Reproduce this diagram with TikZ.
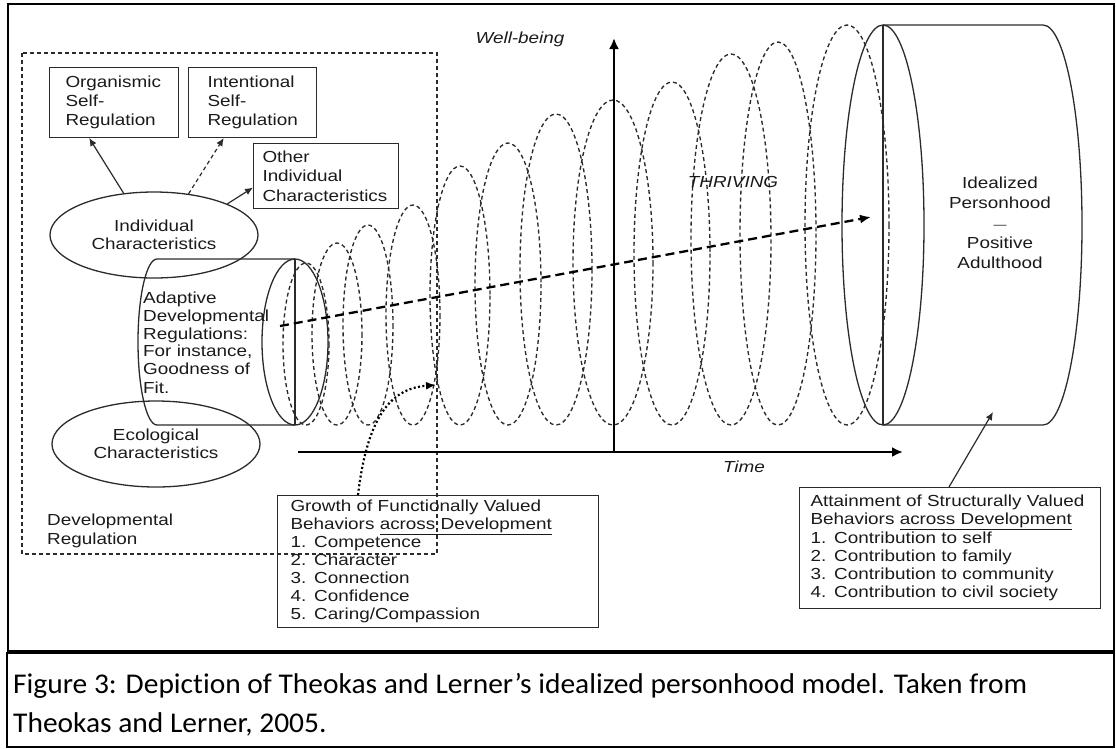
\documentclass[tikz,border=0pt]{standalone}
\usepackage{fontspec}
\setmainfont{Liberation Sans}[FakeStretch=1.18]
\newfontfamily\capfont{Carlito}[Ligatures=CommonOff, FakeStretch=1.03]
\usetikzlibrary{shapes.geometric,arrows.meta}
\definecolor{ink}{HTML}{2B2B2B}
\definecolor{letter}{HTML}{1A1A1A}
\newcommand{\lbl}{\fontsize{16}{18.3}\selectfont}

\begin{document}
\begin{tikzpicture}[x=1pt,y=-1pt,
  frame/.style={draw=black, line width=1.4pt},
  box/.style={draw=ink, line width=1pt, align=left, anchor=north west,
    inner ysep=0pt, font=\lbl, text=letter},
  oval/.style={ellipse, draw=ink, line width=1.3pt, align=center,
    font=\lbl, inner sep=0pt, text=letter},
  plain/.style={inner sep=0pt, text=letter},
  coil/.style={draw=ink, line width=1.35pt, dash pattern=on 4pt off 3pt},
  regbox/.style={draw=ink, line width=1.2pt, dash pattern=on 4pt off 3pt},
  solidarrow/.style={draw=ink, line width=1.2pt, -{Latex[length=8pt,width=7pt]}},
  dasharrow/.style={solidarrow, dash pattern=on 4pt off 3pt},
  axis/.style={draw=black, line width=2.4pt, -{Latex[length=11pt,width=10pt]}},
  trend/.style={draw=black, line width=2.3pt, dash pattern=on 9pt off 5pt,
    -{Latex[length=11pt,width=9pt]}},
  dots/.style={draw=black, line width=2.2pt, dash pattern=on 2pt off 2.4pt,
    -{Latex[length=10pt,width=8pt]}},
  shell/.style={draw=ink, line width=1.3pt}
]
\useasboundingbox (0,0) rectangle (1116,748);

% outer frames: figure area and caption area
\draw[frame] (8,4) rectangle (1114,651);
\draw[frame] (7,653) rectangle (1114,747);

% developmental regulation region
\draw[regbox] (22,53) rectangle (437,554);
\node[plain, anchor=north west, align=left, font=\lbl] (devreg) at (47,514)
  {Developmental\\Regulation};

% coils of development between the two cylinders
\foreach \cx/\tp/\rx in {306/263/23, 337/243/25, 368/225/25, 413/205/27,
    460/166/30, 508/143/33, 556/114/36, 613/100/40, 672/82/38,
    731/54/40, 778/42/38, 847/25/42}
  \draw[coil] (\cx,{(\tp+425)/2}) ellipse [x radius=\rx, y radius={(425-\tp)/2}];

% axes
\coordinate (origin) at (614,452);
\coordinate (wtop) at (614,38);
\coordinate (tleft) at (298,452);
\coordinate (tright) at (903,452);
\draw[axis] (origin) -- (wtop);
\draw[axis] (tleft) -- (tright);
\node[plain, font=\lbl\itshape] (wb) at (520,39.5) {Well-being};
\node[plain, font=\lbl\itshape] (time) at (744,467) {Time};
\node[plain, font=\lbl\itshape] (thr) at (733,182) {THRIVING};

% left cylinder: adaptive developmental regulations
\draw[shell] (295,259) -- (157,259)
  arc[start angle=270, end angle=90, x radius=19, y radius=83] -- (295,425);
\draw[shell] (295,259) -- (295,425);
\draw[shell] (295,342) ellipse [x radius=33, y radius=83];
\node[plain, anchor=north west, align=left,
  font=\fontsize{16}{17.6}\selectfont] (adr) at (143,292)
  {Adaptive\\Developmental\\Regulations:\\For instance,\\Goodness of\\[2pt]Fit.};

% right cylinder: idealized personhood
\draw[shell] (883,25) -- (1043,25)
  arc[start angle=270, end angle=450, x radius=39, y radius=200] -- (883,425);
\draw[shell] (883,25) -- (883,425);
\draw[shell] (883,225) ellipse [x radius=41, y radius=200];
\node[plain, align=center, font=\fontsize{16}{20}\selectfont] (ideal) at (1000,223)
  {Idealized\\Personhood\\{\fontsize{11}{20}\selectfont —}\\Positive\\Adulthood};

% characteristics
\node[oval, minimum width=208, minimum height=86] (indiv) at (154,235)
  {Individual\\Characteristics};
\node[oval, minimum width=208, minimum height=86] (ecol) at (156,444)
  {Ecological\\Characteristics};

% self-regulation boxes
\node[box, text width=97, inner xsep=16, minimum height=70,
  font=\fontsize{16}{19}\selectfont] (org) at (49,67)
  {Organismic\\Self-\\Regulation};
\node[box, text width=90, inner xsep=19, minimum height=70,
  font=\fontsize{16}{19}\selectfont] (intent) at (188,67)
  {Intentional\\Self-\\Regulation};
\node[box, text width=127, inner xsep=9, minimum height=65,
  font=\fontsize{16}{19.5}\selectfont] (other) at (253,143)
  {Other\\Individual\\Characteristics};

\draw[solidarrow] (indiv.126) -- (org.235);
\draw[dasharrow] (indiv.50) -- (intent.231);
\draw[solidarrow] (indiv.23) -- (other.189);

% valued behaviours
\node[box, text width=295, inner xsep=13, minimum height=132,
  font=\fontsize{16}{18}\selectfont] (growth) at (277,495)
  {Growth of Functionally Valued\\Behaviors \underline{across Development}\\
   1. Competence\\2. Character\\3. Connection\\4. Confidence\\5. Caring/Compassion};
\node[box, text width=279, inner xsep=11, minimum height=121,
  font=\fontsize{16}{18.2}\selectfont] (attain) at (799,487)
  {Attainment of Structurally Valued\\Behaviors \underline{across Development}\\
   1. Contribution to self\\2. Contribution to family\\
   3. Contribution to community\\4. Contribution to civil society};

% trajectory of thriving
\coordinate (tr0) at (280,326);
\coordinate (tr1) at (871,217);
\draw[trend] (tr0) -- (tr1);

\coordinate (gtip) at (436,385);
\draw[dots] (growth.north west) ++(81,0) .. controls (368,410) and (395,388) .. (gtip);

\coordinate (adult) at (993,412);
\draw[solidarrow] (attain.north) ++(-1,0) -- (adult);

% caption
\node[inner sep=0pt, text=black, anchor=north west, align=left,
  font=\capfont\fontsize{28.6}{39}\selectfont] (cap) at (13,673)
  {Figure 3: Depiction of Theokas and Lerner’s idealized personhood model. Taken from\\
   Theokas and Lerner, 2005.};
\end{tikzpicture}
\end{document}
